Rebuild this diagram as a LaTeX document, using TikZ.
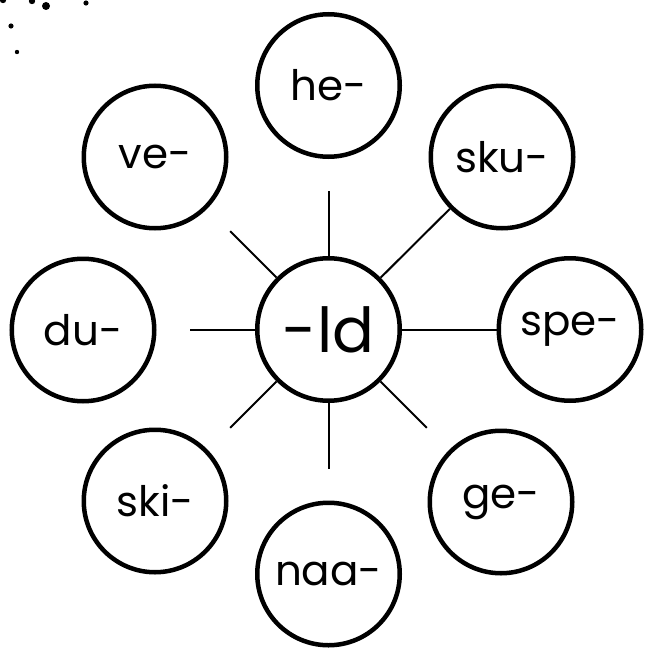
\documentclass[tikz,border=0pt]{standalone}
\usepackage{fontspec}
\setmainfont{Poppins}
\begin{document}
\begin{tikzpicture}[x=1pt,y=-1pt,
  ring/.style={draw=black,line width=4.5pt,circle,minimum size=142.5pt,inner sep=0pt,font=\fontsize{42}{42}\selectfont},
  hub/.style={ring,font=\fontsize{62}{62}\selectfont},
  spoke/.style={draw=black,line width=2pt}]
\useasboundingbox (0,0) rectangle (645,650);
% decorative dots
\fill (3,0) circle (3.2);
\fill (32,1) circle (3.2);
\fill (46,6) circle (4);
\fill (86,3) circle (2.6);
\fill (11,26) circle (2.6);
\fill (17,52) circle (2.2);
% nodes
\node[hub] (c) at (328.5,329.5) {-ld};
\node[ring] (he) at (328.5,85.5) {he-};
\node[ring] (sku) at (502,157) {sku-};
\node[ring] (spe) at (570,329.5) {spe-};
\node[ring] (ge) at (501,502) {ge-};
\node[ring] (naa) at (328.5,574) {naa-};
\node[ring] (ski) at (155,501) {ski-};
\node[ring] (du) at (83,330) {du-};
\node[ring] (ve) at (155,157) {ve-};
% spoke ends
\coordinate (tT) at (328.5,190.5);
\coordinate (tB) at (328.5,468.5);
\coordinate (tL) at (189.5,329.5);
\coordinate (tUL) at (230.2,231.2);
\coordinate (tLL) at (230.2,427.8);
\coordinate (tLR) at (426.8,427.8);
% spokes
\draw[spoke] (c) -- (tT);
\draw[spoke] (c) -- (tB);
\draw[spoke] (c) -- (tL);
\draw[spoke] (c) -- (tUL);
\draw[spoke] (c) -- (tLL);
\draw[spoke] (c) -- (tLR);
\draw[spoke] (c) -- (sku);
\draw[spoke] (c) -- (spe);
\end{tikzpicture}
\end{document}
